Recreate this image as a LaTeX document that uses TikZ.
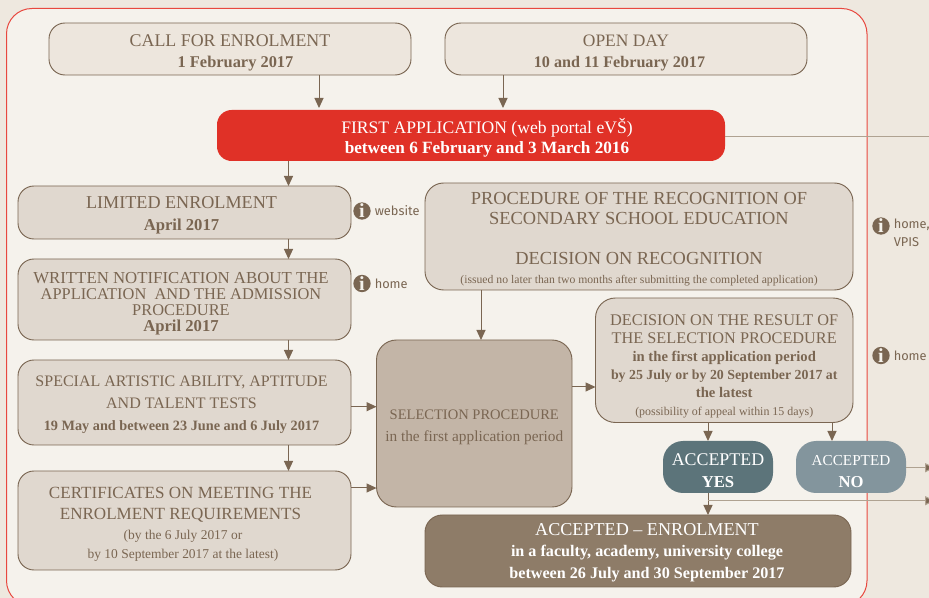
\documentclass[tikz,border=0pt]{standalone}
\usepackage{fontspec}
\setmainfont{Liberation Serif}
\newfontfamily\infofont{Fira Sans}
\usetikzlibrary{arrows.meta}
\definecolor{bgout}{HTML}{EEE8DF}
\definecolor{bgin}{HTML}{F5F2EC}
\definecolor{frameRed}{HTML}{E8483F}
\definecolor{brn}{HTML}{7A6652}
\definecolor{brnl}{HTML}{AFA291}
\definecolor{fillA}{HTML}{EDE6DD}
\definecolor{fillB}{HTML}{E0D8CF}
\definecolor{fillC}{HTML}{C3B5A7}
\definecolor{fillD}{HTML}{8E7C68}
\definecolor{fillRed}{HTML}{E03127}
\definecolor{fillYes}{HTML}{5C747A}
\definecolor{fillNo}{HTML}{83959D}
\newlength\lsp
\newcommand\LS[1]{\setlength\lsp{#1\dimexpr0.75pt\relax}}
\newcommand\ttl[1]{\fontsize{#1pt}{\lsp}\selectfont\mdseries}
\newcommand\bld[1]{\fontsize{#1pt}{\lsp}\selectfont\bfseries}
\newcommand\TS[1]{\vspace*{#1\dimexpr1.5pt\relax}}
\newcommand\SH[1]{\advance\leftskip by #1\dimexpr1.5pt\relax}
\newcommand\SL[1]{\hspace*{#1\dimexpr1.5pt\relax}}
\newcommand\bx[7][]{%
  \pgfmathsetmacro\cxx{(#3+#5)/2}\pgfmathsetmacro\cyy{(#4+#6)/2}%
  \pgfmathsetlengthmacro\ww{(#5-#3)*0.75}\pgfmathsetlengthmacro\hh{(#6-#4)*0.75}%
  \node[flow,minimum width=\ww,minimum height=\hh,#1] (#2) at (\cxx,\cyy) {\parbox{\ww}{\centering #7\par}};}
\tikzset{
  x=0.75pt,y=-0.75pt,
  flow/.style={draw=brn,line width=0.7pt,rounded corners=12pt,inner sep=0pt,outer sep=0pt,text=brn},
  plainA/.style={fill=fillA},
  plainB/.style={fill=fillB},
  arr/.style={draw=brn,line width=0.75pt,-{Triangle[length=7.5pt,width=6.8pt]},shorten >=1.5pt},
  arrout/.style={draw=brnl,line width=0.75pt,-{Triangle[length=7.5pt,width=6.8pt,fill=brn]}},
  arrl/.style={draw=brnl,line width=0.75pt},
  infoi/.style={circle,fill=brn,text=bgin,inner sep=0pt,minimum size=13pt,font=\fontsize{15pt}{15pt}\selectfont\bfseries},
  infot/.style={text=brn,inner sep=0pt,anchor=west,align=left,font=\infofont\fontsize{9.6pt}{13pt}\selectfont},
}
\begin{document}
\begin{tikzpicture}
\useasboundingbox (0,0) rectangle (929,598);
\clip (0,0) rectangle (929,598);
\fill[bgout] (0,0) rectangle (929,598);
\draw[draw=frameRed,fill=bgin,line width=0.75pt,rounded corners=19pt] (6.5,8.5) rectangle (867,606);

\bx[plainA]{call}{49}{23}{411}{75}{\TS{3.5}\LS{21}\ttl{13.4} CALL FOR ENROLMENT\\\bld{12.3}\SL{5.5}1 February 2017}
\bx[plainA]{open}{445}{23}{807}{75}{\TS{3.5}\LS{21}\ttl{13.1} OPEN DAY\\\bld{12.1}\SL{-6.5}10 and 11 February 2017}
\bx[draw=none,fill=fillRed,text=white,rounded corners=11pt]{first}{217}{110}{725}{161}{\TS{2}\SH{16}\LS{20}\ttl{13.2} FIRST APPLICATION (web portal eVŠ)\\\bld{12.9} between 6 February and 3 March 2016}
\bx[plainB]{limited}{18}{186}{351}{239}{\TS{2.5}\SH{-3}\LS{22}\ttl{13.6} LIMITED ENROLMENT\\\bld{12.5} April 2017}
\bx[plainB]{written}{18}{259}{351}{340}{\TS{4}\SH{-3.5}\LS{16}\ttl{12.6} WRITTEN NOTIFICATION ABOUT THE\\\ttl{12.3}APPLICATION\ \ AND THE ADMISSION\\PROCEDURE\\\bld{12.5} April 2017}
\bx[plainB]{special}{18}{360}{351}{445}{\TS{2}\SH{-3}\LS{22}\ttl{12} SPECIAL ARTISTIC ABILITY, APTITUDE\\AND TALENT TESTS\\\bld{10.7} 19 May and between 23 June and 6 July 2017}
\bx[plainB]{cert}{18}{471}{351}{570}{\TS{4}\SH{-4}\LS{21.5}\ttl{12.8} CERTIFICATES ON MEETING THE\\ENROLMENT REQUIREMENTS\\\LS{19.5}\ttl{10.1}\SL{2.5}(by the 6 July 2017 or\\\SL{2.5}by 10 September 2017 at the latest)}
\bx[plainB,rounded corners=14pt]{proc}{425}{183}{853}{290}{\TS{2.5}\LS{20}\ttl{13.8} PROCEDURE OF THE RECOGNITION OF\\SECONDARY SCHOOL EDUCATION\\[15pt]DECISION ON RECOGNITION\\\LS{19}\ttl{8.77} (issued no later than two months after submitting the completed application)}
\bx[fill=fillC,rounded corners=15pt]{sel}{376.5}{340}{572}{507}{\TS{4}\LS{22}\ttl{10.9} SELECTION PROCEDURE\\\ttl{11.5} in the first application period}
\bx[plainB,rounded corners=15pt]{dec}{595.5}{298}{853}{422.5}{\TS{6}\LS{18}\ttl{12.2} DECISION ON THE RESULT OF\\THE SELECTION PROCEDURE\\\bld{11} in the first application period\\\bld{10.4}by 25 July or by 20 September 2017 at\\\bld{11}the latest\\\ttl{8.95} (possibility of appeal within 15 days)}
\bx[draw=none,fill=fillYes,text=white,rounded corners=15pt]{yes}{663}{441}{773}{493}{\TS{4}\LS{22}\ttl{13.4} ACCEPTED\\\bld{12.5} YES}
\bx[draw=none,fill=fillNo,text=white,rounded corners=15pt]{no}{796}{441}{906}{493}{\TS{4.5}\LS{22}\ttl{11.4} ACCEPTED\\\bld{12.5} NO}
\bx[fill=fillD,text=white,rounded corners=13pt]{enrol}{425}{515}{851}{587}{\TS{1.5}\SH{9}\LS{21.5}\ttl{13.6} ACCEPTED – ENROLMENT\\\bld{12.1} in a faculty, academy, university college\\between 26 July and 30 September 2017}

\node[infoi] (i1) at (362,211) {i};
\node[infot] (t1) at (374.5,211) {website};
\node[infoi] (i2) at (362,283.5) {i};
\node[infot] (t2) at (374.5,283.5) {home};
\node[infoi] (i3) at (881,226) {i};
\node[infot,anchor=north west] (t3) at (893.5,219) {home,\\VPIS};
\node[infoi] (i4) at (881,355.5) {i};
\node[infot] (t4) at (893.5,355.5) {home};

\coordinate (xa) at (319,0);
\coordinate (xb) at (503,0);
\coordinate (xc) at (288.5,0);
\coordinate (xd) at (481,0);
\coordinate (xe) at (708,0);
\coordinate (xf) at (832,0);
\coordinate (ya) at (0,406.7);
\coordinate (yb) at (0,488);
\coordinate (yc) at (0,387);
\coordinate (ed1) at (931,136.5);
\coordinate (ed2) at (935,467.7);
\coordinate (ed3) at (935,500.7);
\coordinate (br) at (708,500.7);

\draw[arr] (call.south -| xa) -- (first.north -| xa);
\draw[arr] (open.south -| xb) -- (first.north -| xb);
\draw[arr,shorten >=0pt] (first.south -| xc) -- (limited.north -| xc);
\draw[arr,shorten >=0pt] (limited.south -| xc) -- (written.north -| xc);
\draw[arr,shorten >=0pt] (written.south -| xc) -- (special.north -| xc);
\draw[arr,shorten >=0pt] (special.south -| xc) -- (cert.north -| xc);
\draw[arr,shorten >=0pt] (special.east |- ya) -- (sel.west |- ya);
\draw[arr,shorten >=0pt] (cert.east |- yb) -- (sel.west |- yb);
\draw[arr,shorten >=0pt] (proc.south -| xd) -- (sel.north -| xd);
\draw[arr,shorten >=0pt] (sel.east |- yc) -- (dec.west |- yc);
\draw[arr,shorten >=0pt] (dec.south -| xe) -- (yes.north -| xe);
\draw[arr,shorten >=0pt] (dec.south -| xf) -- (no.north -| xf);
\draw[arr,shorten >=0pt] (yes.south -| xe) -- (enrol.north -| xe);
\draw[arrl] (first.east |- ed1) -- (ed1);
\draw[arrout] (no.east |- ed2) -- (ed2);
\draw[arrout] (br) -- (ed3);
\end{tikzpicture}
\end{document}
